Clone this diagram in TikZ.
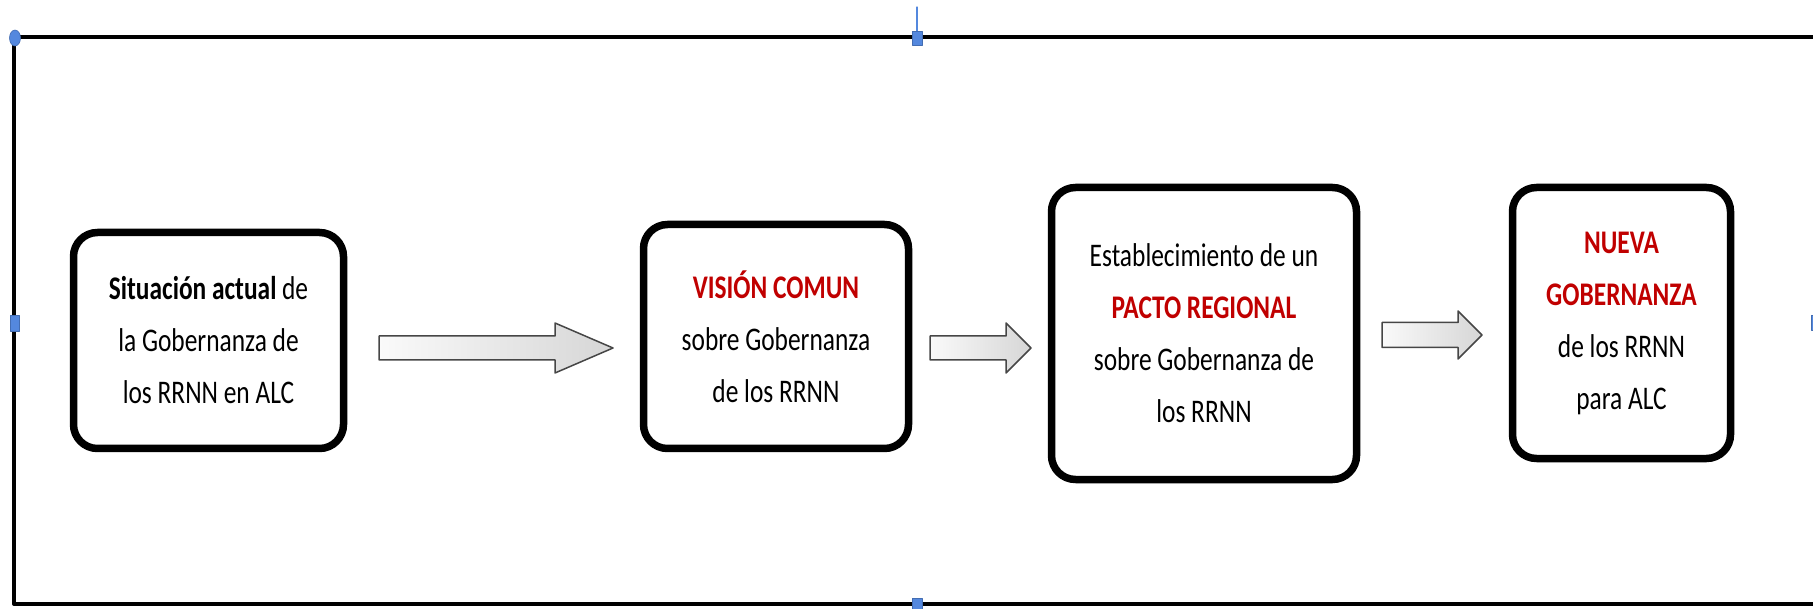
\documentclass[tikz,border=0pt]{standalone}
\usepackage{fontspec}
\setmainfont[FakeStretch=0.77]{Carlito}
\definecolor{rojo}{RGB}{192,0,0}
\definecolor{asul}{RGB}{84,136,222}
\newcommand{\resalta}[1]{\textbf{\color{rojo}#1}}
\tikzset{
  caja/.style={draw, line width=7.5, rounded corners=24, align=center, inner sep=0,
    font=\fontsize{33}{52}\selectfont},
  flecha/.style={draw=gray!55!black, line width=1.5, left color=gray!4, right color=gray!32},
  asa/.style={fill=asul, draw=asul!80!black, line width=0.6}
}
\begin{document}
\begin{tikzpicture}[x=1pt, y=-1pt, line join=round, line cap=round]
\useasboundingbox (0,0) rectangle (1813,609);

% marco
\draw[line width=4] (1813,37) -- (14,37) -- (14,604) -- (1813,604);

% cajas
\node[caja, minimum width=270, minimum height=216] (S) at (208.5,340.5)
  {\textbf{Situación actual} de\\la Gobernanza de\\los RRNN en ALC};
\node[caja, minimum width=265, minimum height=224] (V) at (776,336.5)
  {\resalta{VISIÓN COMUN}\\sobre Gobernanza\\de los RRNN};
\node[caja, minimum width=305, minimum height=292] (P) at (1204,333.5)
  {Establecimiento de un\\\resalta{PACTO REGIONAL}\\sobre Gobernanza de\\los RRNN};
\node[caja, minimum width=218, minimum height=271] (N) at (1621.5,323)
  {\resalta{NUEVA}\\\resalta{GOBERNANZA}\\de los RRNN\\para ALC};

% flechas
\foreach \xa/\xb/\yc/\s/\h/\hl in {379/613/348/12/25/58, 930/1031/348/12/25/25, 1382/1482/335/12.5/24/24}
  \filldraw[flecha] (\xa,\yc-\s) -- (\xb-\hl,\yc-\s) -- (\xb-\hl,\yc-\h) -- (\xb,\yc)
    -- (\xb-\hl,\yc+\h) -- (\xb-\hl,\yc+\s) -- (\xa,\yc+\s) -- cycle;

% asas
\draw[asul, line width=1.2] (917,7) -- (917,32);
\filldraw[asa] (15,38) ellipse (5.5 and 8);
\filldraw[asa] (10,315) rectangle (19,331);
\filldraw[asa] (912,31) rectangle (922,45);
\filldraw[asa] (912,598) rectangle (922,612);
\filldraw[asa] (1811,315) rectangle (1817,330);
\end{tikzpicture}
\end{document}
